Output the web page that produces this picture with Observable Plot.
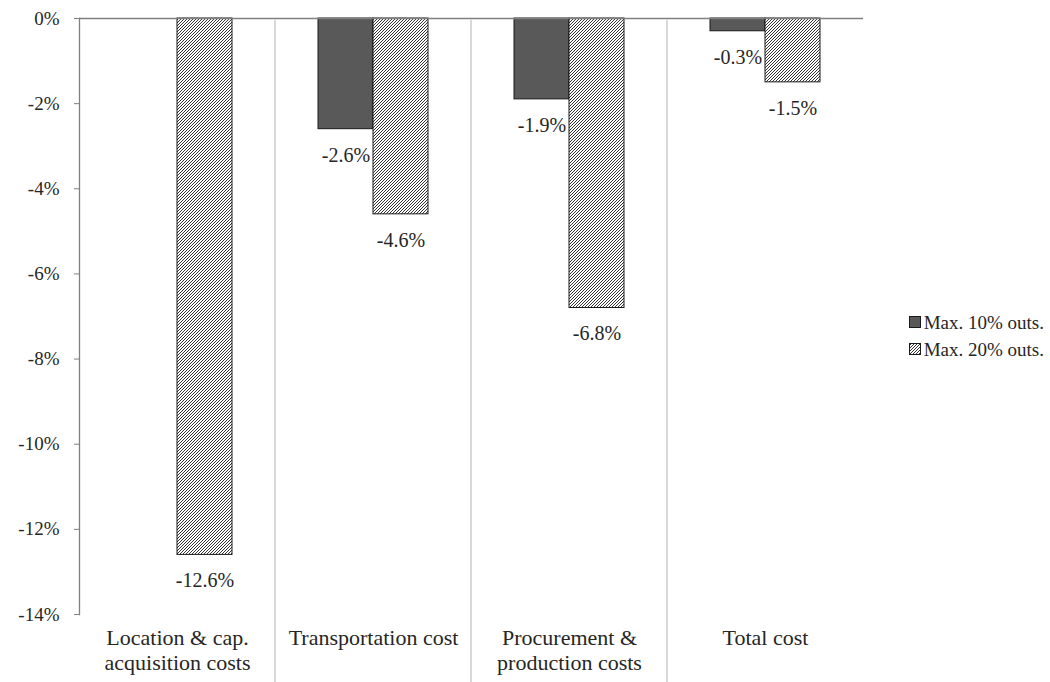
<!DOCTYPE html>
<html><head><meta charset="utf-8">
<script src="https://cdn.jsdelivr.net/npm/d3@7"></script>
<script src="https://cdn.jsdelivr.net/npm/@observablehq/plot@0.6"></script>
<style>
body{margin:0;background:#fff;font-family:"Liberation Serif",serif;}
#wrap{position:relative;width:1050px;height:682px;overflow:hidden;}
#wrap svg text{font-family:"Liberation Serif",serif !important;}
.legend{position:absolute;right:6px;top:309px;font-size:19px;color:#262626;white-space:nowrap;font-family:"Liberation Serif",serif;}
.item{display:flex;align-items:center;height:27px;white-space:nowrap;}
.item svg{margin-right:2px;flex:none;}
</style></head><body>
<div id="wrap"></div>
<script>
const categories = ["Location & cap. acquisition costs","Transportation cost","Procurement & production costs","Total cost"];
const categoryLabels = ["Location & cap.\nacquisition costs","Transportation cost","Procurement &\nproduction costs","Total cost"];
const seriesNames = ["Max. 10% outs.","Max. 20% outs."];
const max10 = [null,-2.6,-1.9,-0.3];
const max20 = [-12.6,-4.6,-6.8,-1.5];
const yTicks = [0,-2,-4,-6,-8,-10,-12,-14];

const rows = [];
categories.forEach((c,i)=>{
  rows.push({category:c, series:seriesNames[0], value:max10[i]});
  rows.push({category:c, series:seriesNames[1], value:max20[i]});
});
const present = rows.filter(d=>d.value!=null);

const W = 1050, H = 682;
const chart = Plot.plot({
  width: W, height: H,
  marginLeft: 77, marginRight: 186, marginTop: 18, marginBottom: 68,
  style: {fontFamily: "'Liberation Serif', serif", fontSize: "19px", color: "#262626", background: "white"},
  fx: {domain: categories, padding: 0},
  x: {domain: seriesNames, paddingInner: 0, paddingOuter: 0.757, axis: null},
  y: {domain: [-14, 0]},
  color: {domain: seriesNames, range: ["#595959", "url(#hatch)"]},
  marks: [
    Plot.frame({anchor: "left", stroke: "#808080", strokeWidth: 1.3, facetAnchor: "left"}),
    Plot.axisY({ticks: yTicks, tickSize: 5, tickPadding: 15, stroke: "#808080", fill: "#262626",
      tickFormat: d => d + "%", fontSize: 19, label: null}),
    Plot.axisFx({anchor: "bottom", tickSize: 0, tickPadding: 13, fontSize: 22, label: null,
      lineHeight: 1.12, fill: "#262626",
      tickFormat: d => categoryLabels[categories.indexOf(d)]}),
    Plot.barY(present, {fx: "category", x: "series", y1: 0, y2: "value", fill: "series",
      stroke: "#1a1a1a", strokeWidth: 1}),
    Plot.ruleY([0], {stroke: "#808080", strokeWidth: 1.6}),
    Plot.text(present, {fx: "category", x: "series", y: "value", text: d => d.value.toFixed(1) + "%",
      dy: 26, fontSize: 20, fill: "#262626"})
  ]
});

const svg = d3.select(chart);
const defs = svg.insert("defs", ":first-child");
const pat = defs.append("pattern").attr("id","hatch").attr("patternUnits","userSpaceOnUse")
  .attr("width",3).attr("height",3);
pat.append("rect").attr("width",3).attr("height",3).attr("fill","white");
pat.append("path").attr("d","M-1,1 l2,-2 M0,3 l3,-3 M2,4 l2,-2")
  .attr("stroke","#333").attr("stroke-width",1);

const fx = chart.scale("fx");
const g = svg.append("g");
categories.slice(1).forEach(c => {
  const x = fx.apply(c);
  g.append("line").attr("x1",x).attr("x2",x).attr("y1",19).attr("y2",H)
    .attr("stroke","#d9d9d9").attr("stroke-width",2);
});

const wrap = document.getElementById("wrap");
wrap.appendChild(chart);
const legend = document.createElement("div");
legend.className = "legend";
const fills = ["#595959","url(#hatch)"];
seriesNames.forEach((s,i)=>{
  const it = document.createElement("div");
  it.className = "item";
  it.innerHTML = `<svg width="13" height="13"><rect x="0.5" y="0.5" width="11" height="11" fill="${fills[i]}" stroke="#1a1a1a" stroke-width="1"/></svg><span>${s}</span>`;
  legend.appendChild(it);
});
wrap.appendChild(legend);
</script>
</body></html>
